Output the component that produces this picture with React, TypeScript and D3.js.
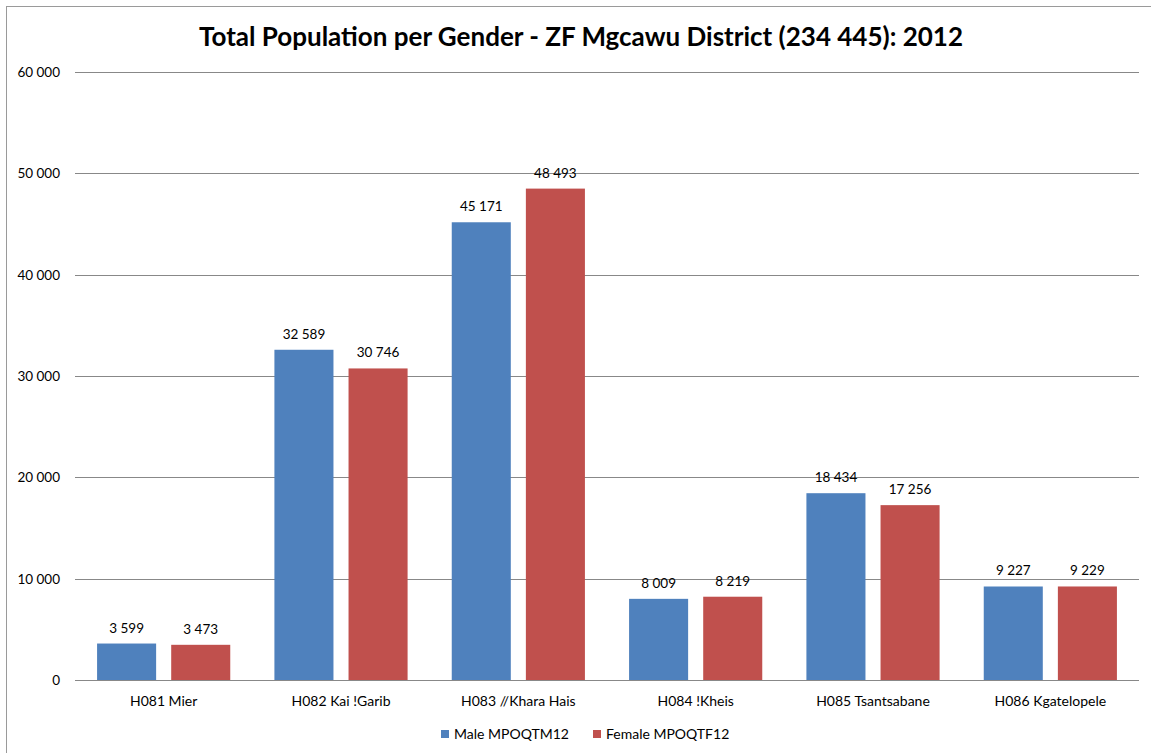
import * as d3 from 'd3'
import React, { useEffect, useRef } from 'react'

const categories = ['H081 Mier', 'H082 Kai !Garib', 'H083 //Khara Hais', 'H084 !Kheis', 'H085 Tsantsabane', 'H086 Kgatelopele']
const seriesNames = ['Male MPOQTM12', 'Female MPOQTF12']
const maleValues = [3599, 32589, 45171, 8009, 18434, 9227]
const femaleValues = [3473, 30746, 48493, 8219, 17256, 9229]
const yTicks = [0, 10000, 20000, 30000, 40000, 50000, 60000]
const colors = ['#4F81BD', '#C0504D']

const fmt = (v: number) => d3.format(',')(v).replace(/,/g, ' ')

const App = (): JSX.Element => {
    const ref = useRef<SVGSVGElement>(null)

    useEffect(() => {
        const width = 1151
        const height = 753
        const margin = { left: 75, right: 12, top: 72, bottom: 73 }
        const svg = d3.select(ref.current)
        svg.selectAll('*').remove()

        // outer frame
        svg.append('rect')
            .attr('x', 6.5)
            .attr('y', 6.5)
            .attr('width', width)
            .attr('height', height)
            .style('fill', 'white')
            .style('stroke', '#9a9a9a')
            .style('stroke-width', 1)

        svg.append('text')
            .attr('x', 581)
            .attr('y', 46)
            .attr('text-anchor', 'middle')
            .style('font-family', 'Lato')
            .style('font-weight', 700)
            .style('font-size', '26px')
            .text('Total Population per Gender - ZF Mgcawu District (234 445): 2012')

        const x = d3
            .scaleBand()
            .domain(categories)
            .range([margin.left, width - margin.right])
            .paddingInner(0)
            .paddingOuter(0)
        const y = d3
            .scaleLinear()
            .domain([0, 60000])
            .range([height - margin.bottom, margin.top])

        // gridlines + tick labels
        const grid = svg.append('g')
        yTicks.forEach((t) => {
            grid.append('line')
                .attr('x1', margin.left)
                .attr('x2', width - margin.right)
                .attr('y1', Math.round(y(t)) + 0.5)
                .attr('y2', Math.round(y(t)) + 0.5)
                .style('stroke', '#888')
                .style('stroke-width', 1)
            grid.append('text')
                .attr('x', 60)
                .attr('y', y(t) + 5)
                .attr('text-anchor', 'end')
                .style('font-family', 'Lato')
                .style('font-size', '13.5px')
                .text(fmt(t))
        })

        const bw = x.bandwidth()
        const barW = bw * 0.333
        const gap = bw * 0.085
        const x1 = d3
            .scaleOrdinal<number, number>()
            .domain([0, 1])
            .range([(bw - 2 * barW - gap) / 2, (bw + gap) / 2])

        const series = [maleValues, femaleValues]
        series.forEach((vals, si) => {
            const g = svg.append('g')
            const data = categories.map((c, i) => ({ c, v: vals[i] }))
            g.selectAll('rect')
                .data(data)
                .enter()
                .append('rect')
                .attr('x', (d) => (x(d.c) as number) + x1(si))
                .attr('y', (d) => y(d.v))
                .attr('width', barW)
                .attr('height', (d) => y(0) - y(d.v))
                .style('fill', colors[si])
            g.selectAll('text')
                .data(data)
                .enter()
                .append('text')
                .attr('x', (d) => (x(d.c) as number) + x1(si) + barW / 2)
                .attr('y', (d) => y(d.v) - 11)
                .attr('text-anchor', 'middle')
                .style('font-family', 'Lato')
                .style('font-size', '13.5px')
                .text((d) => fmt(d.v))
        })

        // category labels
        svg.append('g')
            .selectAll('text')
            .data(categories)
            .enter()
            .append('text')
            .attr('x', (d) => (x(d) as number) + bw / 2)
            .attr('y', height - margin.bottom + 26)
            .attr('text-anchor', 'middle')
            .style('font-family', 'Lato')
            .style('font-size', '14px')
            .text((d) => d)

        // legend
        const legendX = [441, 593]
        seriesNames.forEach((name, i) => {
            svg.append('rect')
                .attr('x', legendX[i])
                .attr('y', 730)
                .attr('width', 8)
                .attr('height', 8)
                .style('fill', colors[i])
            svg.append('text')
                .attr('x', legendX[i] + 13)
                .attr('y', 739)
                .style('font-family', 'Lato')
                .style('font-size', '14px')
                .text(name)
        })
    }, [])

    return (
        <svg
            ref={ref}
            width={1151}
            height={753}
            style={{ position: 'absolute', left: 0, top: 0, display: 'block' }}
        />
    )
}

export default App
